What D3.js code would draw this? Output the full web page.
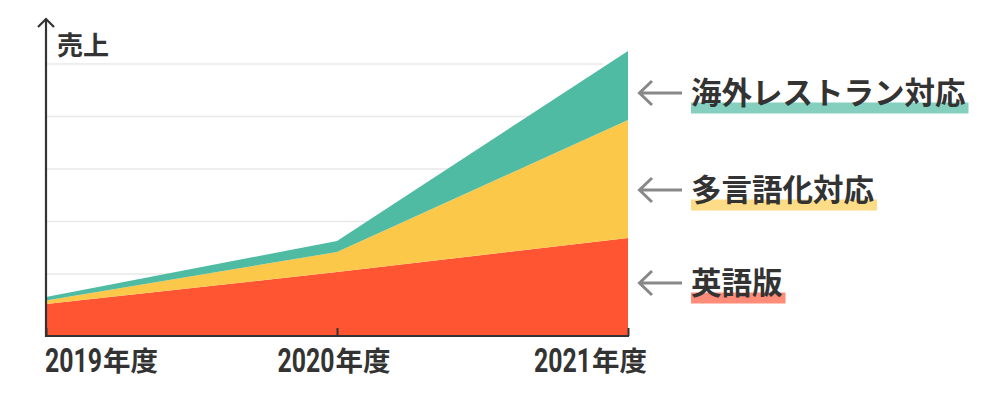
<!DOCTYPE html>
<html><head><meta charset="utf-8">
<script src="https://cdn.jsdelivr.net/npm/d3@7"></script>
<style>
html,body{margin:0;padding:0;background:#fff;}
svg{display:block;}
</style></head>
<body>
<svg id="c" width="1001" height="395"></svg>
<script>
// ---- data ----
const years = ["2019", "2020", "2021"];
const yearSuffix = "年度";
const englishVersion = [32, 64, 98];      // 英語版
const multilingual = [3.5, 20, 118];      // 多言語化対応
const overseasRestaurant = [3.5, 11, 69]; // 海外レストラン対応
const seriesNames = ["英語版", "多言語化対応", "海外レストラン対応"];
const gridValues = [62, 114.5, 167, 219.5, 272];
const yLabel = "売上";

const colors = ["#ff5533", "#fcc84a", "#50bba3"];
const highlight = ["#ff8c78", "#fddc88", "#84cfbe"];

const svg = d3.select("#c");
const x = d3.scalePoint().domain(years).range([46, 628]);
const y = d3.scaleLinear().domain([0, 290]).range([336, 46]);

const table = years.map((yr, i) => ({
  year: yr,
  [seriesNames[0]]: englishVersion[i],
  [seriesNames[1]]: multilingual[i],
  [seriesNames[2]]: overseasRestaurant[i]
}));
const stacked = d3.stack().keys(seriesNames)(table);

// gridlines
svg.append("g").selectAll("line").data(gridValues).join("line")
  .attr("x1", 46).attr("x2", 603)
  .attr("y1", d => y(d)).attr("y2", d => y(d))
  .attr("stroke", "#e8e8e8").attr("stroke-width", 1.5);

// areas
const area = d3.area()
  .x(d => x(d.data.year))
  .y0(d => y(d[0]))
  .y1(d => y(d[1]));
svg.append("g").selectAll("path").data(stacked).join("path")
  .attr("d", area)
  .attr("fill", (d, i) => colors[i]);

// x axis
const xAxis = svg.append("g")
  .attr("transform", `translate(0,${y(0)})`)
  .call(d3.axisBottom(x).tickSizeInner(-8).tickSizeOuter(0).tickFormat(""));
xAxis.select(".domain").attr("stroke", "#333").attr("stroke-width", 2.2)
  .attr("d", "M45,0H629");
xAxis.selectAll(".tick line").attr("stroke", "#333").attr("stroke-width", 2);

// y axis with arrow
const yTop = 19;
svg.append("line").attr("x1", 46).attr("x2", 46)
  .attr("y1", y(0) + 1).attr("y2", yTop)
  .attr("stroke", "#333").attr("stroke-width", 2.2);
svg.append("path").attr("d", `M38,${yTop + 8}L46,${yTop}L54,${yTop + 8}`)
  .attr("fill", "none").attr("stroke", "#333").attr("stroke-width", 2.2);

svg.append("text").attr("x", 57).attr("y", 55)
  .attr("font-family", "'Noto Sans CJK JP'").attr("font-weight", 700)
  .attr("font-size", 26).attr("fill", "#333").text(yLabel);

// x labels
const anchors = [
  { mode: "start", pos: x(years[0]) - 1 },
  { mode: "middle", pos: x(years[1]) - 3 },
  { mode: "end", pos: x(years[2]) + 19 }
];
const sx = 0.73;
years.forEach((yr, i) => {
  const g = svg.append("g");
  const dt = g.append("text")
    .attr("font-family", "Roboto").attr("font-weight", 700)
    .attr("font-size", 34).attr("fill", "#333").text(yr);
  const dw = dt.node().getComputedTextLength() * sx;
  const kt = g.append("text")
    .attr("font-family", "'Noto Sans CJK JP'").attr("font-weight", 700)
    .attr("font-size", 27.5).attr("fill", "#333").text(yearSuffix);
  const kw = kt.node().getComputedTextLength();
  const gap = 1;
  const W = dw + gap + kw;
  let x0 = anchors[i].pos;
  if (anchors[i].mode === "middle") x0 -= W / 2;
  if (anchors[i].mode === "end") x0 -= W;
  dt.attr("transform", `translate(${x0},371.7) scale(${sx},1)`);
  kt.attr("x", x0 + dw + gap).attr("y", 370.5);
});

// right labels
const labelY = [283, 190, 93];
seriesNames.forEach((name, i) => {
  const cy = labelY[i];
  const g = svg.append("g");
  g.append("path")
    .attr("d", `M682,${cy}H639M652,${cy - 12}L639.5,${cy}L652,${cy + 12}`)
    .attr("fill", "none").attr("stroke", "#888").attr("stroke-width", 3);
  const bar = g.append("rect").attr("fill", highlight[i]);
  const t = g.append("text").attr("x", 691).attr("y", cy + 11)
    .attr("font-family", "'Noto Sans CJK JP'").attr("font-weight", 700)
    .attr("font-size", 30.5).attr("fill", "#333").text(name);
  const w = t.node().getComputedTextLength();
  bar.attr("x", 691).attr("y", cy + 9.5).attr("width", w + 3).attr("height", 11);
  t.raise();
});
</script>
</body></html>
